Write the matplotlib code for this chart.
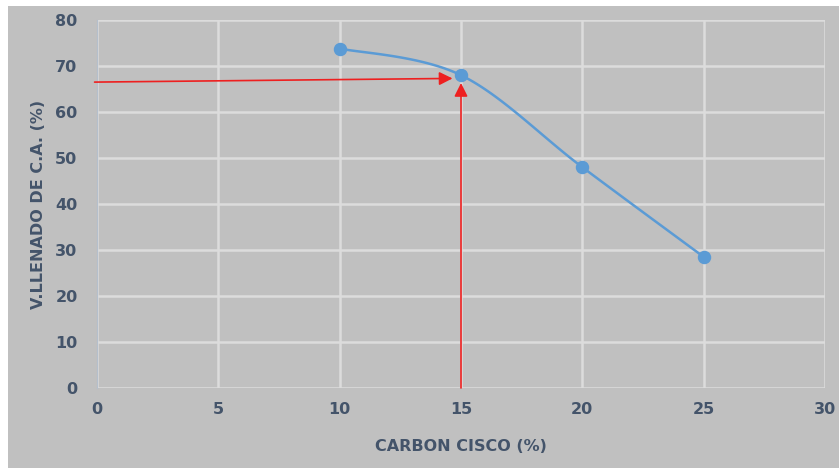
import matplotlib.pyplot as plt
import matplotlib.patches as mpatches
import numpy as np

carbon = [10, 15, 20, 25]
llenado = [73.8, 68.0, 48.0, 28.5]
xticks = [0, 5, 10, 15, 20, 25, 30]
yticks = [0, 10, 20, 30, 40, 50, 60, 70, 80]
lectura_x = 15
lectura_y = 66.5

GRIS = '#c0c0c0'
TEXTO = '#44546a'
AZUL = '#5b9bd5'


def suavizar(x, y, n=40):
    # spline tipo Catmull-Rom, como la linea suavizada de Excel
    x = np.asarray(x, float)
    y = np.asarray(y, float)
    px = np.concatenate([[x[0]], x, [x[-1]]])
    py = np.concatenate([[y[0]], y, [y[-1]]])
    xs, ys = [], []
    t = np.linspace(0, 1, n)
    for i in range(1, len(px) - 2):
        for p, out in ((px, xs), (py, ys)):
            p0, p1, p2, p3 = p[i - 1], p[i], p[i + 1], p[i + 2]
            m1 = (p2 - p0) / 2
            m2 = (p3 - p1) / 2
            h00 = 2 * t**3 - 3 * t**2 + 1
            h10 = t**3 - 2 * t**2 + t
            h01 = -2 * t**3 + 3 * t**2
            h11 = t**3 - t**2
            out.extend(h00 * p1 + h10 * m1 + h01 * p2 + h11 * m2)
    return np.array(xs), np.array(ys)


fig = plt.figure(figsize=(8.39, 4.69), dpi=100)
fig.patch.set_facecolor('white')
fig.patches.append(mpatches.Rectangle((8 / 839, 1 / 469), 1, 462 / 469,
                                      transform=fig.transFigure,
                                      facecolor=GRIS, edgecolor='none', zorder=-1))

ax = fig.add_axes([97 / 839, 1 - 388 / 469, 728 / 839, 368 / 469])
ax.set_facecolor(GRIS)
ax.set_xlim(0, 30)
ax.set_ylim(0, 80)
ax.set_xticks(xticks)
ax.set_yticks(yticks)
ax.grid(True, color='#dcdcdc', linewidth=1.8)
ax.set_axisbelow(True)
for s in ['top', 'right', 'bottom']:
    ax.spines[s].set_visible(False)
ax.spines['left'].set_color('#b4bfcc')
ax.tick_params(axis='y', length=0, labelsize=11.5, labelcolor=TEXTO, pad=14)
ax.tick_params(axis='x', length=0, labelsize=11.5, labelcolor=TEXTO, pad=10)
for lbl in ax.get_xticklabels() + ax.get_yticklabels():
    lbl.set_fontweight('bold')

sx, sy = suavizar(carbon, llenado)
ax.plot(sx, sy, color=AZUL, linewidth=1.8, zorder=3)
ax.scatter(carbon, llenado, s=75, color=AZUL, zorder=4)

# flechas rojas de lectura
ax.annotate('', xy=(14.65, 67.3), xytext=(-0.1, lectura_y),
            arrowprops=dict(arrowstyle='-|>', color='#ee2020', lw=1.2,
                            mutation_scale=20, shrinkA=0, shrinkB=0),
            annotation_clip=False, zorder=5)
ax.annotate('', xy=(lectura_x, 66.3), xytext=(lectura_x, 0),
            arrowprops=dict(arrowstyle='-|>', color='#ee2020', lw=1.2,
                            mutation_scale=20, shrinkA=0, shrinkB=0),
            zorder=5)

ax.set_xlabel('CARBON CISCO (%)', fontsize=11.5, color=TEXTO,
              fontweight='bold', labelpad=16)
ax.set_ylabel('V.LLENADO DE C.A. (%)', fontsize=11.5, color=TEXTO,
              fontweight='bold', labelpad=7)

fig.savefig('out.png', dpi=100, facecolor=fig.get_facecolor())
